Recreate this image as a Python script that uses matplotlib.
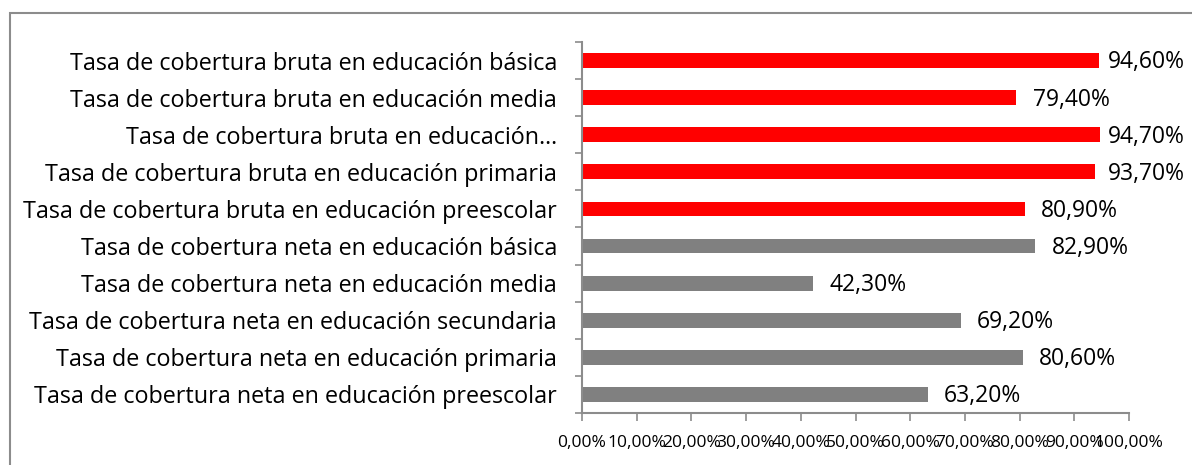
import matplotlib
matplotlib.use("Agg")
import matplotlib.pyplot as plt
from matplotlib.patches import Rectangle
from matplotlib.ticker import FixedLocator

# bottom to top, as drawn
categories = [
    "Tasa de cobertura neta en educación preescolar",
    "Tasa de cobertura neta en educación primaria",
    "Tasa de cobertura neta en educación secundaria",
    "Tasa de cobertura neta en educación media",
    "Tasa de cobertura neta en educación básica",
    "Tasa de cobertura bruta en educación preescolar",
    "Tasa de cobertura bruta en educación primaria",
    "Tasa de cobertura bruta en educación…",
    "Tasa de cobertura bruta en educación media",
    "Tasa de cobertura bruta en educación básica",
]
values = [63.2, 80.6, 69.2, 42.3, 82.9, 80.9, 93.7, 94.7, 79.4, 94.6]
groups = ["neta"] * 5 + ["bruta"] * 5
group_colors = {"neta": "#808080", "bruta": "#ff0000"}
xticks = list(range(0, 101, 10))

plt.rcParams["font.family"] = ["Open Sans", "DejaVu Sans"]

fig = plt.figure(figsize=(11.92, 4.65), dpi=100)
fig.patches.append(Rectangle((10 / 1192, -0.1), 1.2, 1 - 13 / 465 + 0.1,
                             transform=fig.transFigure, fill=False,
                             edgecolor="#8c8c8c", linewidth=1.5))
ax = fig.add_axes([582 / 1192, 1 - 413 / 465, (1129 - 582) / 1192, (413 - 42) / 465])

y = list(range(len(categories)))
ax.barh(y, values, height=0.4, color=[group_colors[g] for g in groups])
for yi, v in zip(y, values):
    # labels sit right of the bar, but are held inside the chart area
    ax.text(min(v + 3, 96.2), yi - 0.05, f"{v:.2f}%".replace(".", ","),
            va="center", ha="left", fontsize=16.5, color="black")

ax.set_xlim(0, 100)
ax.set_ylim(-0.5, len(categories) - 0.5)
ax.set_xticks(xticks)
ax.set_xticklabels([f"{t:.2f}%".replace(".", ",") for t in xticks], fontsize=12.5)
ax.set_yticks(y)
ax.set_yticklabels(categories, fontsize=16.8)
ax.yaxis.set_minor_locator(FixedLocator([i - 0.5 for i in range(len(categories) + 1)]))
ax.tick_params(axis="y", which="major", length=0, pad=18)
ax.tick_params(axis="y", which="minor", length=5, color="#8c8c8c", width=1.2)
ax.tick_params(axis="x", length=6, color="#8c8c8c", width=1.2, pad=10)

for s in ["top", "right"]:
    ax.spines[s].set_visible(False)
for s in ["left", "bottom"]:
    ax.spines[s].set_color("#8c8c8c")
    ax.spines[s].set_linewidth(1.5)

fig.savefig("out.png", dpi=100)
